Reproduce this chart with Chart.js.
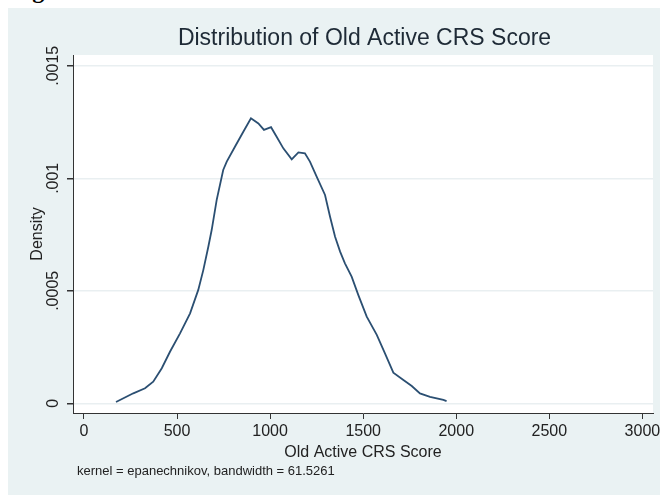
<!DOCTYPE html>
<html>
<head>
<meta charset="utf-8">
<script src="https://cdn.jsdelivr.net/npm/chart.js@4.4.1/dist/chart.umd.min.js"></script>
<style>
  html, body { margin: 0; padding: 0; background: #fff; overflow: hidden; }
  body { width: 660px; height: 495px; position: relative; }
  .fig-head {
    position: absolute; left: 11px; top: -22.5px;
    font: bold 24px "Liberation Serif", serif; line-height: 24px; color: #000;
    white-space: nowrap;
  }
  .graph-region {
    position: absolute; left: 8px; top: 8px; width: 652px; height: 487px;
    background: #eaf2f3;
  }
  #kdensity { position: absolute; left: 0; top: 0; }
</style>
</head>
<body>
<div class="fig-head">Figure</div>
<div class="graph-region">
  <canvas id="kdensity" width="652" height="482"></canvas>
</div>
<script>
const chartTitle = 'Distribution of Old Active CRS Score';
const xAxisTitle = 'Old Active CRS Score';
const yAxisTitle = 'Density';
const noteText = 'kernel = epanechnikov, bandwidth = 61.5261';

// kernel density estimate
const scoreX = [172, 265, 328, 372, 418, 462, 516, 570, 614, 641,
  668, 686, 713, 748, 767, 811, 856, 897, 937, 967,
  1005, 1035, 1071, 1116, 1152, 1187, 1214, 1250, 1295, 1322,
  1349, 1376, 1402, 1438, 1474, 1519, 1573, 1617, 1662, 1716,
  1761, 1805, 1859, 1931, 1948];
const densityY = [0.0000058, 0.0000444, 0.0000667, 0.000096, 0.000156, 0.000229, 0.000311, 0.0004, 0.000504, 0.000592,
  0.000696, 0.00077, 0.000904, 0.001037, 0.001074, 0.00114, 0.001207, 0.001267, 0.001244, 0.001215,
  0.001227, 0.001185, 0.001133, 0.001084, 0.001115, 0.001111, 0.001074, 0.001007, 0.000926, 0.000829,
  0.00074, 0.000674, 0.000622, 0.000563, 0.000481, 0.000385, 0.000304, 0.000222, 0.000136, 0.000104,
  0.000077, 0.000044, 0.000029, 0.000015, 0.00001];

const xTickValues = [0, 500, 1000, 1500, 2000, 2500, 3000];
const yTickValues = [0, 0.0005, 0.001, 0.0015];
const yTickLabels = ['0', '.0005', '.001', '.0015'];

const FONT = '"Liberation Sans", Arial, sans-serif';
const TEXT = '#222';

// plot region fill + rotated y labels + title + note
const stataBits = {
  id: 'stataBits',
  beforeDraw(chart) {
    const { ctx, chartArea: a } = chart;
    ctx.save();
    ctx.fillStyle = '#fff';
    ctx.fillRect(a.left, a.top, a.right - a.left, a.bottom - a.top);
    ctx.restore();
  },
  afterDraw(chart) {
    const { ctx } = chart;
    const yScale = chart.scales.y;
    ctx.save();
    ctx.fillStyle = TEXT;
    ctx.font = `16px ${FONT}`;
    ctx.textAlign = 'center';
    ctx.textBaseline = 'middle';
    yTickValues.forEach((v, i) => {
      const py = yScale.getPixelForValue(v);
      ctx.save();
      ctx.translate(46, py);
      ctx.rotate(-Math.PI / 2);
      ctx.fillText(yTickLabels[i], 0, 0);
      ctx.restore();
    });

    ctx.fillStyle = '#1e2a36';
    ctx.font = `23px ${FONT}`;
    ctx.fillText(chartTitle, 356.5, 31);

    ctx.fillStyle = TEXT;
    ctx.font = `13px ${FONT}`;
    ctx.textAlign = 'left';
    ctx.textBaseline = 'alphabetic';
    ctx.fillText(noteText, 69, 467);
    ctx.restore();
  },
};

new Chart(document.getElementById('kdensity'), {
  type: 'line',
  data: {
    datasets: [
      {
        data: scoreX.map((x, i) => ({ x, y: densityY[i] })),
        borderColor: '#2b4f72',
        borderWidth: 1.8,
        pointRadius: 0,
        tension: 0,
        fill: false,
      },
    ],
  },
  options: {
    responsive: false,
    animation: false,
    layout: { padding: { top: 47, right: 7, bottom: 27, left: 0 } },
    plugins: {
      legend: { display: false },
      tooltip: { enabled: false },
      title: { display: false },
    },
    scales: {
      x: {
        type: 'linear',
        min: -59,
        max: 3057,
        afterBuildTicks: (scale) => { scale.ticks = xTickValues.map((value) => ({ value })); },
        afterFit: (scale) => { scale.height = 50; scale.paddingLeft = 0; scale.paddingRight = 0; },
        ticks: {
          color: TEXT,
          font: { family: FONT, size: 16 },
          padding: 3,
          maxRotation: 0,
          callback: (value) => String(value),
        },
        grid: { drawOnChartArea: false, tickLength: 6, tickColor: '#333' },
        border: { display: true, color: '#333', width: 1 },
        title: { display: true, text: xAxisTitle, color: TEXT, font: { family: FONT, size: 16 }, padding: { top: 0, bottom: 0.5 } },
      },
      y: {
        min: -0.0000431,
        max: 0.001548,
        afterBuildTicks: (scale) => { scale.ticks = yTickValues.map((value) => ({ value })); },
        afterFit: (scale) => { scale.width = 65; scale.paddingTop = 0; scale.paddingBottom = 0; },
        ticks: { display: false },
        grid: { color: '#e9eff1', lineWidth: 1.5, tickLength: 6, tickColor: '#333' },
        border: { display: true, color: '#333', width: 1 },
        title: { display: true, text: yAxisTitle, color: TEXT, font: { family: FONT, size: 16 }, padding: { top: 20, bottom: 0 } },
      },
    },
  },
  plugins: [stataBits],
});
</script>
</body>
</html>
